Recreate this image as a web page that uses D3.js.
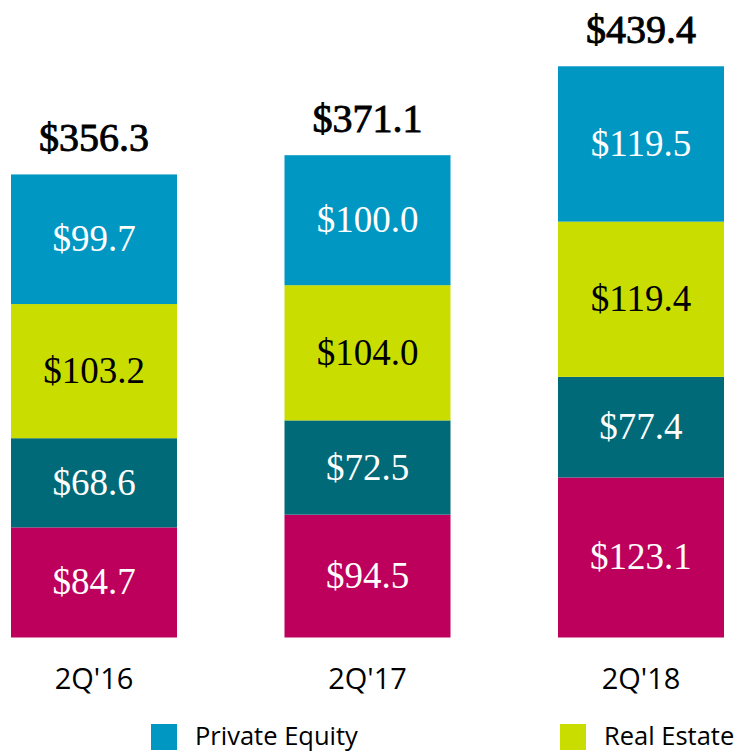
<!DOCTYPE html>
<html>
<head>
<meta charset="utf-8">
<script src="https://cdn.jsdelivr.net/npm/d3@7"></script>
<style>
  html, body { margin: 0; padding: 0; background: #fff; }
  svg { display: block; }
</style>
</head>
<body>
<svg id="chart" width="740" height="752"></svg>
<script>
const categories = ["2Q'16", "2Q'17", "2Q'18"];
const seriesNames = ["Credit", "Hedge Fund Solutions", "Real Estate", "Private Equity"];
const credit = [84.7, 94.5, 123.1];
const hedgeFunds = [68.6, 72.5, 77.4];
const realEstate = [103.2, 104.0, 119.4];
const privateEquity = [99.7, 100.0, 119.5];
const totals = [356.3, 371.1, 439.4];
const legendItems = ["Private Equity", "Real Estate"];

const colors = {
  "Credit": "#BD005B",
  "Hedge Fund Solutions": "#006A78",
  "Real Estate": "#CADD00",
  "Private Equity": "#0098C3"
};
const labelColors = {
  "Credit": "#ffffff",
  "Hedge Fund Solutions": "#ffffff",
  "Real Estate": "#000000",
  "Private Equity": "#ffffff"
};

const valuesBySeries = {
  "Credit": credit,
  "Hedge Fund Solutions": hedgeFunds,
  "Real Estate": realEstate,
  "Private Equity": privateEquity
};
const table = categories.map((c, i) => {
  const row = { category: c, total: totals[i] };
  seriesNames.forEach(s => row[s] = valuesBySeries[s][i]);
  return row;
});

const svg = d3.select("#chart");
const x = d3.scaleBand().domain(categories).range([11, 724]).paddingInner(0.393).paddingOuter(0);
const y = d3.scaleLinear().domain([0, 490]).range([637.5, 0.5]);

const stacked = d3.stack().keys(seriesNames)(table);
const serif = "'Liberation Serif', 'DejaVu Serif', serif";
const sans = "'Open Sans', 'Liberation Sans', sans-serif";

const layers = svg.append("g").selectAll("g").data(stacked).join("g")
  .attr("fill", d => colors[d.key]);

layers.selectAll("rect").data(d => d).join("rect")
  .attr("x", d => x(d.data.category))
  .attr("width", x.bandwidth())
  .attr("y", d => y(d[1]))
  .attr("height", d => y(d[0]) - y(d[1]));

layers.selectAll("text").data(d => d.map(v => ({ v, key: d.key }))).join("text")
  .attr("x", d => x(d.v.data.category) + x.bandwidth() / 2)
  .attr("y", d => (y(d.v[0]) + y(d.v[1])) / 2 + 12)
  .attr("text-anchor", "middle")
  .attr("font-family", serif)
  .attr("font-size", 37)
  .attr("fill", d => labelColors[d.key])
  .text(d => "$" + d.v.data[d.key].toFixed(1));

svg.append("g").selectAll("text").data(table).join("text")
  .attr("x", d => x(d.category) + x.bandwidth() / 2)
  .attr("y", d => y(d.total) - 23)
  .attr("text-anchor", "middle")
  .attr("font-family", serif)
  .attr("font-size", 40)
  .attr("fill", "#000")
  .attr("stroke", "#000")
  .attr("stroke-width", 0.9)
  .text(d => "$" + d.total.toFixed(1));

const xAxis = d3.axisBottom(x).tickSize(0).tickPadding(0);
const gx = svg.append("g").attr("transform", "translate(0,667)").call(xAxis);
gx.select(".domain").remove();
gx.selectAll("text")
  .attr("dy", null)
  .attr("y", 22)
  .attr("font-family", sans)
  .attr("font-size", 29)
  .attr("fill", "#000");

const legendX = [151, 560];
const lg = svg.append("g").selectAll("g").data(legendItems).join("g")
  .attr("transform", (d, i) => `translate(${legendX[i]},724)`);
lg.append("rect").attr("width", 26).attr("height", 26).attr("fill", d => colors[d]);
lg.append("text")
  .attr("x", 44).attr("y", 20.5)
  .attr("font-family", sans)
  .attr("font-size", 25.5)
  .attr("fill", "#000")
  .text(d => d);
</script>
</body>
</html>
